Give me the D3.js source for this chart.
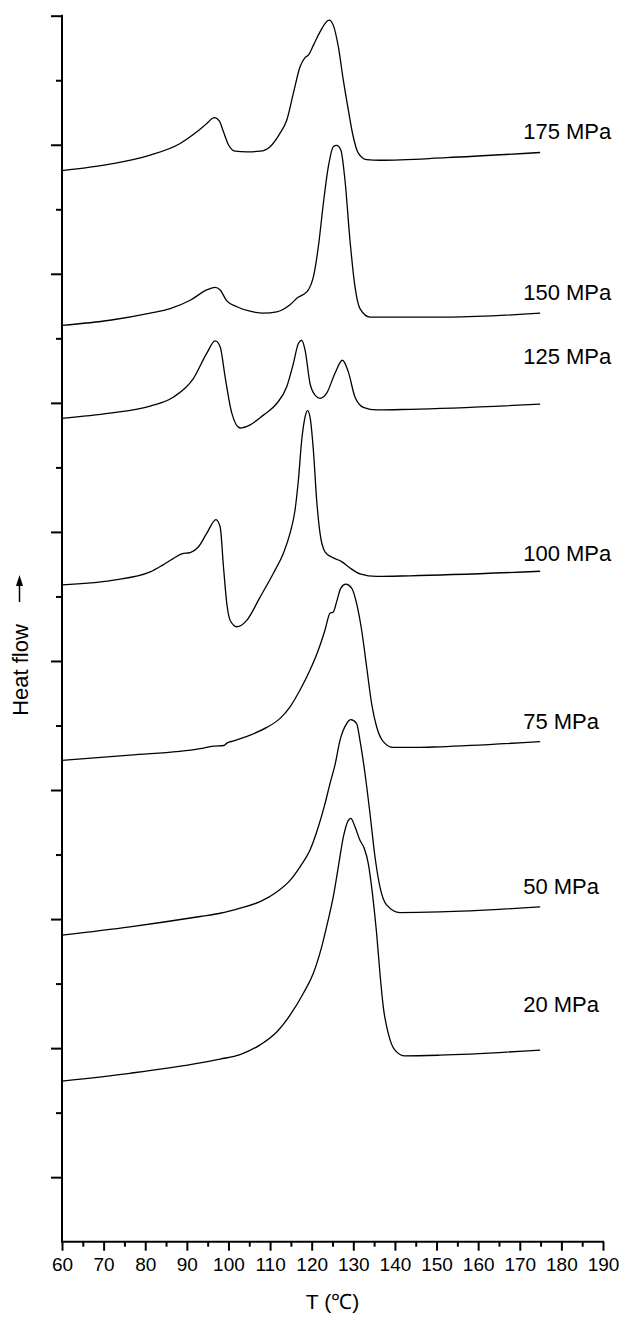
<!DOCTYPE html>
<html>
<head>
<meta charset="utf-8">
<script src="https://cdn.jsdelivr.net/npm/d3@7/dist/d3.min.js"></script>
<style>
  html, body { margin: 0; padding: 0; background: #fff; }
  text { font-family: "Liberation Sans", Arial, sans-serif; fill: #000; }
</style>
</head>
<body>
<svg id="chart" width="627" height="1320"></svg>
<script>
// DSC melting curves of samples crystallized at different pressures.
// Temperature in °C, heat flow in arbitrary (stacked) units.

const xTickValues = [60, 70, 80, 90, 100, 110, 120, 130, 140, 150, 160, 170, 180, 190];
const xMinorTicks = [65, 75, 85, 95, 105, 115, 125, 135, 145, 155, 165, 175, 185];
const yTickValues = [1, 2, 3, 4, 5, 6, 7, 8, 9, 10, 11, 12, 13, 14, 15, 16, 17, 18, 19];

const pressures = ["175 MPa", "150 MPa", "125 MPa", "100 MPa", "75 MPa", "50 MPa", "20 MPa"];

const t175 = [60, 71.5, 81.2, 88.4, 92.4, 94.8, 96.6, 97.8, 98.8, 100.0, 101.6, 104.4, 107.6, 110.0, 112.4, 114.0, 115.6, 117.2, 118.4, 119.2, 120.4, 122.0, 124.2, 125.2, 126.4, 127.6, 128.8, 130.0, 131.2, 133.2, 136.4, 152.4, 174.9];
const q175 = [16.60, 16.70, 16.84, 17.02, 17.20, 17.33, 17.42, 17.37, 17.20, 17.00, 16.90, 16.89, 16.90, 16.97, 17.18, 17.38, 17.80, 18.21, 18.35, 18.39, 18.54, 18.75, 18.93, 18.85, 18.52, 18.00, 17.54, 17.12, 16.87, 16.77, 16.76, 16.80, 16.88];

const t150 = [60, 71.5, 81.2, 86.0, 90.8, 94.8, 96.8, 98.0, 99.6, 102.0, 105.2, 108.4, 111.6, 114.8, 116.8, 118.0, 119.2, 120.4, 121.6, 122.8, 124.0, 125.2, 126.0, 127.0, 128.0, 129.2, 130.4, 131.6, 134.0, 138.8, 153.2, 174.9];
const q150 = [14.20, 14.28, 14.39, 14.46, 14.59, 14.75, 14.79, 14.75, 14.58, 14.49, 14.42, 14.39, 14.41, 14.52, 14.64, 14.68, 14.75, 14.95, 15.42, 16.09, 16.66, 16.97, 16.99, 16.92, 16.45, 15.52, 14.80, 14.46, 14.33, 14.33, 14.33, 14.39];

const t125 = [60, 71.5, 81.2, 86.8, 91.6, 94.8, 96.8, 98.0, 99.2, 100.8, 102.8, 105.2, 108.4, 111.6, 114.0, 115.6, 116.8, 117.6, 118.4, 119.6, 120.8, 122.0, 123.6, 125.6, 127.4, 128.8, 130.4, 132.4, 135.6, 143.6, 174.9];
const q125 = [12.76, 12.84, 12.95, 13.09, 13.38, 13.77, 13.96, 13.87, 13.40, 12.84, 12.61, 12.66, 12.81, 12.99, 13.25, 13.61, 13.92, 13.97, 13.82, 13.30, 13.12, 13.07, 13.15, 13.46, 13.66, 13.48, 13.09, 12.93, 12.89, 12.90, 12.98];

const t100 = [60, 72.0, 81.2, 84.3, 86.8, 88.8, 90.8, 92.8, 94.8, 97.0, 98.0, 98.8, 99.6, 100.4, 102.0, 104.4, 107.6, 110.8, 113.2, 114.8, 116.0, 116.8, 117.6, 118.4, 119.0, 119.6, 120.4, 121.2, 122.0, 123.2, 124.8, 127.2, 129.2, 131.6, 135.6, 143.6, 174.9];
const q100 = [10.18, 10.25, 10.38, 10.49, 10.59, 10.66, 10.68, 10.77, 10.98, 11.19, 11.08, 10.46, 9.89, 9.63, 9.53, 9.63, 9.99, 10.36, 10.67, 10.98, 11.34, 11.80, 12.42, 12.78, 12.88, 12.78, 12.27, 11.49, 10.98, 10.69, 10.61, 10.54, 10.44, 10.35, 10.31, 10.32, 10.39];

const t75 = [60, 76.3, 93.2, 96.4, 98.9, 99.7, 101.2, 105.2, 109.2, 112.4, 114.8, 117.2, 119.6, 121.6, 123.2, 124.4, 125.2, 126.0, 127.0, 128.2, 129.6, 130.8, 132.0, 133.2, 134.4, 135.6, 137.2, 139.6, 145.2, 150.8, 174.9];
const q75 = [7.46, 7.54, 7.64, 7.68, 7.69, 7.73, 7.76, 7.85, 7.97, 8.11, 8.29, 8.55, 8.86, 9.17, 9.48, 9.74, 9.76, 9.92, 10.13, 10.19, 10.13, 9.89, 9.48, 8.91, 8.34, 7.98, 7.75, 7.66, 7.66, 7.67, 7.75];

const t50 = [60, 76.3, 93.2, 98.0, 102.8, 107.6, 111.6, 114.8, 117.2, 119.6, 121.6, 123.2, 124.4, 125.6, 126.8, 128.4, 129.4, 130.8, 131.6, 132.8, 134.0, 135.2, 136.4, 138.0, 141.2, 150.8, 174.9];
const q50 = [4.75, 4.88, 5.04, 5.09, 5.17, 5.27, 5.42, 5.60, 5.81, 6.07, 6.43, 6.79, 7.10, 7.39, 7.77, 8.03, 8.09, 8.03, 7.77, 7.26, 6.64, 5.97, 5.50, 5.22, 5.10, 5.11, 5.19];

const t20 = [60, 76.3, 93.2, 98.0, 102.8, 107.6, 111.6, 114.8, 118.0, 120.4, 122.4, 123.8, 125.2, 126.4, 127.6, 128.8, 129.4, 130.4, 131.6, 132.6, 133.6, 134.4, 135.2, 135.6, 136.4, 137.2, 138.4, 140.0, 142.4, 150.8, 174.9];
const q20 = [2.49, 2.61, 2.77, 2.83, 2.90, 3.05, 3.25, 3.51, 3.85, 4.16, 4.57, 4.94, 5.35, 5.81, 6.27, 6.53, 6.56, 6.43, 6.22, 6.10, 5.86, 5.50, 5.04, 4.78, 4.16, 3.64, 3.23, 2.97, 2.88, 2.89, 2.97];

const seriesT = [t175, t150, t125, t100, t75, t50, t20];
const seriesQ = [q175, q150, q125, q100, q75, q50, q20];

// Vertical lift (px) of each pressure label above its curve's end
const labelLift = [13, 13, 40, 10, 13, 13, 38];

const svg = d3.select("#chart");

const x = d3.scaleLinear().domain([60, 190]).range([62, 603]);
const y = d3.scaleLinear().domain([0, 19]).range([1241.7, 15.7]);

// Curves
const line = d3.line()
  .x(d => x(d[0]))
  .y(d => y(d[1]))
  .curve(d3.curveMonotoneX);

const curves = svg.append("g");
seriesT.forEach((ts, i) => {
  const pts = ts.map((t, k) => [t, seriesQ[i][k]]);
  curves.append("path")
    .attr("d", line(pts))
    .attr("fill", "none")
    .attr("stroke", "#000")
    .attr("stroke-width", 1.3)
    .attr("stroke-linejoin", "round");
});

// Pressure labels near the right end of each curve
const labels = svg.append("g").attr("font-size", 22);
pressures.forEach((p, i) => {
  const ts = seriesT[i], qs = seriesQ[i];
  const n = ts.length - 1;
  labels.append("text")
    .attr("x", x(ts[n]) - 17)
    .attr("y", y(qs[n]) - labelLift[i])
    .text(p);
});

// Bottom axis
const xAxis = svg.append("g").attr("transform", `translate(0,${y(0)})`);
xAxis.call(d3.axisBottom(x).tickValues(xTickValues).tickSize(9).tickPadding(4).tickFormat(d3.format("d")));
xAxis.append("g").call(d3.axisBottom(x).tickValues(xMinorTicks).tickSize(5).tickFormat(""));
xAxis.selectAll(".domain").remove();
xAxis.append("line").attr("x1", x(60) - 1).attr("x2", x(190) + 1).attr("stroke", "#000").attr("stroke-width", 2);
xAxis.selectAll(".tick line").attr("stroke", "#000").attr("stroke-width", 2);
xAxis.selectAll(".tick text").attr("font-size", 19).attr("font-family", "Liberation Sans, Arial, sans-serif").attr("fill", "#000").attr("dy", "0.85em");

// Left axis, no labels
const yAxis = svg.append("g").attr("transform", `translate(${x(60)},0)`);
yAxis.call(d3.axisLeft(y).tickValues(yTickValues.filter(v => v % 2 === 1)).tickSize(11).tickFormat(""));
yAxis.append("g").call(d3.axisLeft(y).tickValues(yTickValues.filter(v => v % 2 === 0)).tickSize(6).tickFormat(""));
yAxis.selectAll(".domain").remove();
yAxis.append("line").attr("y1", y(19) - 1).attr("y2", y(0) + 1).attr("stroke", "#000").attr("stroke-width", 2);
yAxis.selectAll(".tick line").attr("stroke", "#000").attr("stroke-width", 2);

// Axis titles
svg.append("text")
  .attr("x", (x(60) + x(190)) / 2)
  .attr("y", 1309)
  .attr("text-anchor", "middle")
  .attr("font-size", 21)
  .text("T (℃)");

svg.append("text")
  .attr("transform", "translate(28,670) rotate(-90)")
  .attr("text-anchor", "middle")
  .attr("font-size", 22)
  .text("Heat flow");

// Upward arrow beside the heat-flow title
const ax = 19.5;
svg.append("line")
  .attr("x1", ax).attr("x2", ax)
  .attr("y1", 602).attr("y2", 584)
  .attr("stroke", "#000").attr("stroke-width", 1.5);
svg.append("path")
  .attr("d", `M${ax},575 L${ax - 3.5},586 L${ax + 3.5},586 Z`)
  .attr("fill", "#000");
</script>
</body>
</html>
